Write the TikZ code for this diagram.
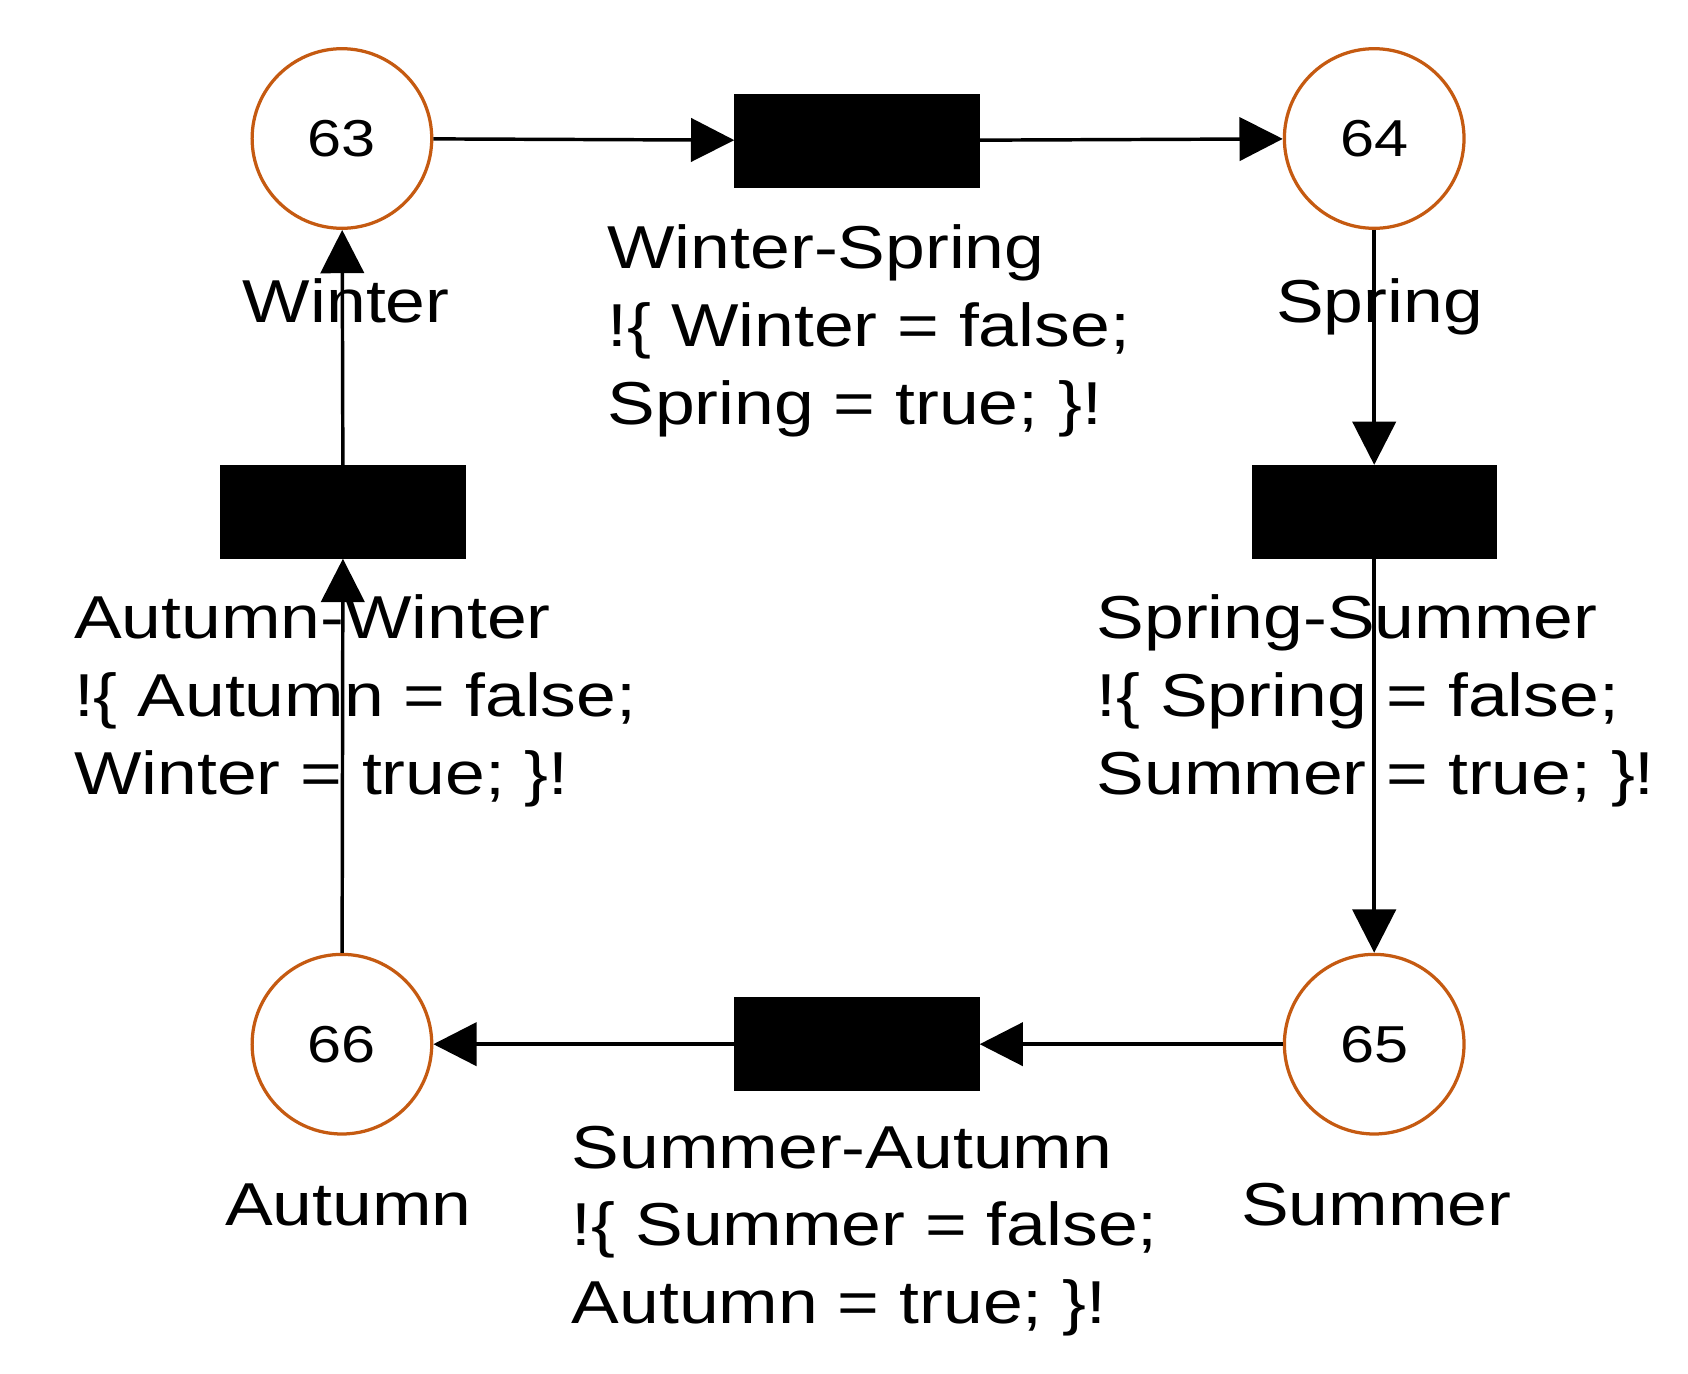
\documentclass[tikz,border=0pt]{standalone}
\usepackage{fontspec}
\setmainfont{Liberation Sans}[FakeStretch=1.18]
\usetikzlibrary{arrows.meta}
\definecolor{pl}{HTML}{C55A11}
\begin{document}
\begin{tikzpicture}[x=0.5pt,y=-0.5pt,
 place/.style={circle,draw=pl,line width=1.5pt,minimum size=83pt,inner sep=0pt,font=\fontsize{24}{28}\selectfont},
 trans/.style={fill=black,draw=black,minimum width=113pt,minimum height=43pt,inner sep=0pt},
 lbl/.style={inner sep=0pt,font=\fontsize{28}{36}\selectfont,align=left},
 arc/.style={line width=1.6pt,-{Triangle[length=20pt,width=20pt]}}]
\useasboundingbox (0,0) rectangle (1560,1269);
\node[place] (p63) at (316,128) {63};
\node[place] (p64) at (1270,128) {64};
\node[place] (p65) at (1270,965) {65};
\node[place] (p66) at (316,965) {66};
\node[trans] (tws) at (792,130) {};
\node[trans] (tss) at (1270,473) {};
\node[trans] (tsa) at (792,965) {};
\node[trans] (taw) at (317,473) {};
\draw[arc] (p63) -- (tws);
\draw[arc] (tws) -- (p64);
\draw[arc] (p64) -- (tss);
\draw[arc] (tss) -- (p65);
\draw[arc] (p65) -- (tsa);
\draw[arc] (tsa) -- (p66);
\draw[arc] (p66) -- (taw);
\draw[arc] (taw) -- (p63);
\node[lbl,anchor=base] (lw) at (320,298) {Winter};
\node[lbl,anchor=base] (lsp) at (1275,298) {Spring};
\node[lbl,anchor=base] (lsu) at (1272,1133) {Summer};
\node[lbl,anchor=base] (lau) at (322,1133) {Autumn};
\node[lbl,anchor=north west] (a1) at (561,207) {Winter-Spring\\!\{ Winter = false;\\Spring = true; \}!};
\node[lbl,anchor=north west] (a2) at (1013,549) {Spring-Summer\\!\{ Spring = false;\\Summer = true; \}!};
\node[lbl,anchor=north west] (a3) at (528,1040) {Summer-Autumn\\!\{ Summer = false;\\Autumn = true; \}!};
\node[lbl,anchor=north west] (a4) at (68,549) {Autumn-Winter\\!\{ Autumn = false;\\Winter = true; \}!};
\end{tikzpicture}
\end{document}
